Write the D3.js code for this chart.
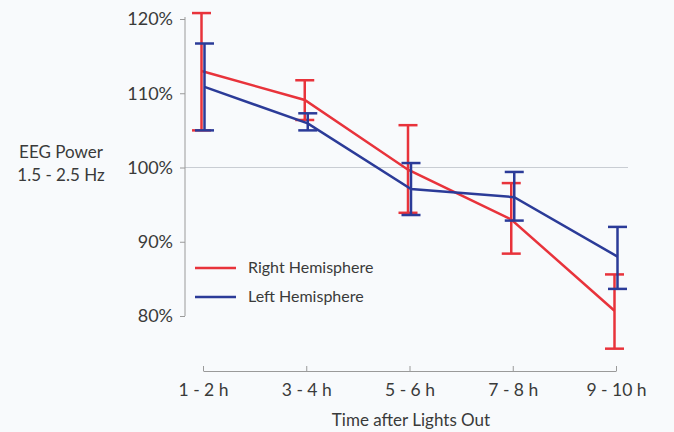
<!DOCTYPE html>
<html>
<head>
<meta charset="utf-8">
<script src="https://cdn.jsdelivr.net/npm/d3@7"></script>
<style>
  body { margin: 0; background: #f8fafc; }
  svg { display: block; font-family: Lato, "Open Sans", sans-serif; }
</style>
</head>
<body>
<svg id="chart"></svg>
<script>
// data
const categories = ["1 - 2 h", "3 - 4 h", "5 - 6 h", "7 - 8 h", "9 - 10 h"];
const rightMean = [113.0, 109.1, 99.7, 93.0, 80.7];
const rightHigh = [120.8, 111.75, 105.7, 97.9, 85.6];
const rightLow = [105.0, 106.4, 93.9, 88.4, 75.6];
const leftMean = [110.85, 105.95, 97.1, 96.0, 88.0];
const leftHigh = [116.7, 107.3, 100.6, 99.4, 92.0];
const leftLow = [105.0, 105.0, 93.6, 92.85, 83.65];
const yTicks = [80, 90, 100, 110, 120];

const width = 674, height = 432;
const svg = d3.select("#chart").attr("width", width).attr("height", height);

const x = d3.scalePoint().domain(categories).range([203, 616]);
const y = d3.scaleLinear().domain([80, 120]).range([316, 19]);

const axisColor = "#9a9a9a";
const textColor = "#3a3a3a";

// reference line at 100%
svg.append("line")
  .attr("x1", 185).attr("x2", 628)
  .attr("y1", y(100)).attr("y2", y(100))
  .attr("stroke", "#c9cdd3").attr("stroke-width", 1);

// Y axis
const yAxis = svg.append("g")
  .attr("transform", "translate(185,0)")
  .call(d3.axisLeft(y).tickValues(yTicks).tickFormat(d => d + "%").tickSize(5).tickSizeOuter(0));
yAxis.select(".domain").attr("stroke", axisColor).attr("d", `M0,${y(120) - 2}V${y(80)}`);
yAxis.selectAll(".tick line").attr("stroke", axisColor);
yAxis.selectAll(".tick text")
  .attr("x", -12)
  .attr("fill", textColor)
  .style("font-size", "18px")
  .style("font-family", "Lato, 'Open Sans', sans-serif");

// X axis (ticks pointing up)
const xAxis = svg.append("g")
  .attr("transform", "translate(0,371)")
  .call(d3.axisTop(x).tickSize(5).tickSizeOuter(0));
xAxis.select(".domain").attr("stroke", axisColor);
xAxis.selectAll(".tick line").attr("stroke", axisColor);
xAxis.selectAll(".tick text")
  .attr("y", 25)
  .attr("dy", "0")
  .attr("fill", textColor)
  .style("font-size", "17.5px")
  .style("font-family", "Lato, 'Open Sans', sans-serif");

// axis titles
svg.append("text")
  .attr("x", 411).attr("y", 426)
  .attr("text-anchor", "middle")
  .attr("fill", textColor)
  .style("font-size", "17px")
  .text("Time after Lights Out");

svg.append("text")
  .attr("x", 61).attr("y", 158)
  .attr("text-anchor", "middle")
  .attr("fill", textColor)
  .style("font-size", "17px")
  .text("EEG Power");
svg.append("text")
  .attr("x", 61).attr("y", 181)
  .attr("text-anchor", "middle")
  .attr("fill", textColor)
  .style("font-size", "17px")
  .text("1.5 - 2.5 Hz");

// series
const series = [
  { name: "Right Hemisphere", color: "#e8333b", mean: rightMean, hi: rightHigh, lo: rightLow, dx: -1.5 },
  { name: "Left Hemisphere", color: "#2b3b98", mean: leftMean, hi: leftHigh, lo: leftLow, dx: 1.5 }
];

const cap = 9.5;
series.forEach(s => {
  const pts = categories.map((c, i) => ({ c, m: s.mean[i], h: s.hi[i], l: s.lo[i] }));
  const g = svg.append("g");

  g.append("path")
    .datum(pts)
    .attr("fill", "none")
    .attr("stroke", s.color)
    .attr("stroke-width", 2.5)
    .attr("d", d3.line().x(d => x(d.c) + s.dx).y(d => y(d.m)));

  const eb = g.selectAll(".eb").data(pts).enter().append("g");
  eb.append("line")
    .attr("x1", d => x(d.c) + s.dx).attr("x2", d => x(d.c) + s.dx)
    .attr("y1", d => y(d.h)).attr("y2", d => y(d.l))
    .attr("stroke", s.color).attr("stroke-width", 2.5);
  eb.append("line")
    .attr("x1", d => x(d.c) + s.dx - cap).attr("x2", d => x(d.c) + s.dx + cap)
    .attr("y1", d => y(d.h)).attr("y2", d => y(d.h))
    .attr("stroke", s.color).attr("stroke-width", 2.5);
  eb.append("line")
    .attr("x1", d => x(d.c) + s.dx - cap).attr("x2", d => x(d.c) + s.dx + cap)
    .attr("y1", d => y(d.l)).attr("y2", d => y(d.l))
    .attr("stroke", s.color).attr("stroke-width", 2.5);
});

// legend
const legend = svg.append("g");
series.forEach((s, i) => {
  const ly = 268 + i * 29;
  legend.append("line")
    .attr("x1", 195).attr("x2", 236)
    .attr("y1", ly).attr("y2", ly)
    .attr("stroke", s.color).attr("stroke-width", 2.5);
  legend.append("text")
    .attr("x", 248).attr("y", ly + 5)
    .attr("fill", textColor)
    .style("font-size", "16px")
    .text(s.name);
});
</script>
</body>
</html>
